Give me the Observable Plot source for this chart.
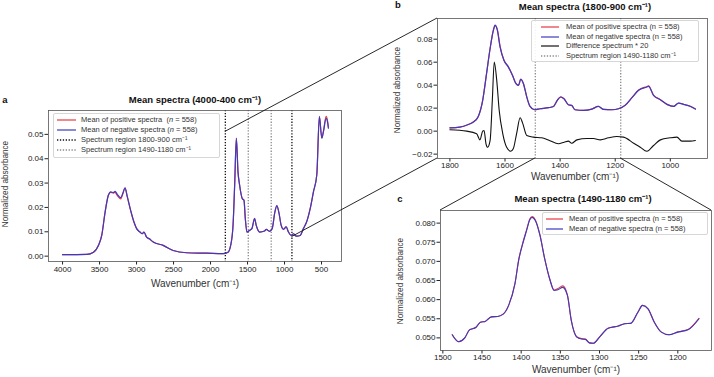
<!DOCTYPE html>
<html><head><meta charset="utf-8">
<script src="https://cdn.jsdelivr.net/npm/d3@7"></script>
<script src="https://cdn.jsdelivr.net/npm/@observablehq/plot@0.6"></script>
<style>
html,body{margin:0;padding:0;background:#fff;}
#root{position:relative;width:714px;height:377px;overflow:hidden;background:#fff;font-family:"Liberation Sans",Arial,sans-serif;color:#222;}
.abs{position:absolute;}
.t{position:absolute;white-space:nowrap;transform:translate(-50%,-50%);line-height:1;}
.ttl{font-weight:bold;font-size:9.5px;color:#111;}
.ax{font-size:10px;color:#333;}
.axy{font-size:9.5px;color:#333;transform:translate(-50%,-50%) rotate(-90deg) scale(0.86,1);}
.lg{position:absolute;border:1px solid #d6d6d6;border-radius:2px;background:rgba(255,255,255,0.9);box-sizing:border-box;}
.lg .row{position:absolute;white-space:nowrap;font-size:7.5px;color:#333;transform:translateY(-50%);line-height:1;}
.lg svg{position:absolute;}
</style></head><body><div id="root"></div>
<script>
// ---------- Panel a: 4000-400 cm-1 ----------
const wnA = [4000,3672,3582,3515,3470,3425,3380,3349,3313,3290,3259,3214,3187,3156,3124,3080,3035,2999,2954,2922,2900,2864,2828,2774,2640,2505,2325,2056,1831,1764,1728,1696,1674,1651,1629,1607,1571,1548,1530,1508,1472,1441,1405,1382,1337,1270,1247,1203,1167,1131,1104,1077,1045,1014,978,947,911,879,856,834,789,744,698,653,609,564,529,496,474,438,420,407];
const negA = [0.0006,0.0007,0.0016,0.0044,0.0085,0.0180,0.0250,0.0264,0.0261,0.0266,0.0253,0.0240,0.0257,0.0280,0.0243,0.0188,0.0140,0.0113,0.0099,0.0092,0.0099,0.0078,0.0071,0.0058,0.0044,0.0023,0.0014,0.0012,0.0010,0.0016,0.0044,0.0126,0.0291,0.0484,0.0346,0.0291,0.0236,0.0229,0.0154,0.0099,0.0106,0.0113,0.0154,0.0126,0.0099,0.0103,0.0110,0.0102,0.0113,0.0180,0.0206,0.0180,0.0126,0.0110,0.0120,0.0099,0.0085,0.0092,0.0085,0.0082,0.0085,0.0113,0.0143,0.0195,0.0264,0.0333,0.0573,0.0484,0.0511,0.0566,0.0552,0.0525];
const posA = [0.0006,0.0007,0.0016,0.0045,0.0087,0.0182,0.0252,0.0262,0.0259,0.0262,0.0248,0.0235,0.0254,0.0279,0.0242,0.0188,0.0140,0.0113,0.0099,0.0092,0.0099,0.0078,0.0071,0.0058,0.0044,0.0023,0.0014,0.0012,0.0010,0.0016,0.0044,0.0126,0.0292,0.0485,0.0348,0.0292,0.0237,0.0230,0.0154,0.0099,0.0106,0.0113,0.0155,0.0126,0.0099,0.0103,0.0110,0.0102,0.0113,0.0181,0.0208,0.0181,0.0126,0.0110,0.0120,0.0099,0.0085,0.0092,0.0085,0.0082,0.0085,0.0114,0.0144,0.0196,0.0265,0.0334,0.0574,0.0485,0.0513,0.0574,0.0558,0.0530];
const regionOuter = [1800, 900];
const regionInner = [1490, 1180];
const xTicksA = [4000,3500,3000,2500,2000,1500,1000,500];
const yTicksA = [0,0.01,0.02,0.03,0.04,0.05];
const xDomA = [4190, 230], yDomA = [-0.0022, 0.0598];

// ---------- Panel b: 1800-900 cm-1 ----------
const wnB = [1800,1764,1733,1715,1697,1681,1667,1655,1642,1636,1628,1618,1604,1588,1573,1560,1551,1543,1533,1521,1509,1493,1473,1442,1424,1410,1398,1386,1370,1358,1346,1315,1285,1261,1242,1212,1188,1164,1139,1115,1085,1079,1061,1036,1012,988,970,952,927,909];
const negB = [0.0029,0.0035,0.0058,0.0079,0.0128,0.0268,0.0500,0.0704,0.0879,0.0922,0.0879,0.0733,0.0617,0.0559,0.0486,0.0413,0.0399,0.0451,0.0413,0.0297,0.0215,0.0186,0.0195,0.0204,0.0215,0.0268,0.0297,0.0282,0.0230,0.0224,0.0186,0.0180,0.0192,0.0215,0.0189,0.0186,0.0195,0.0224,0.0291,0.0355,0.0384,0.0390,0.0311,0.0273,0.0233,0.0215,0.0244,0.0233,0.0215,0.0192];
const posB = [0.0029,0.0035,0.0058,0.0079,0.0128,0.0268,0.0500,0.0704,0.0881,0.0918,0.0888,0.0740,0.0619,0.0559,0.0486,0.0413,0.0399,0.0452,0.0413,0.0297,0.0215,0.0186,0.0195,0.0204,0.0215,0.0269,0.0299,0.0283,0.0230,0.0224,0.0186,0.0180,0.0192,0.0215,0.0189,0.0186,0.0195,0.0225,0.0293,0.0358,0.0389,0.0395,0.0314,0.0274,0.0233,0.0215,0.0245,0.0234,0.0216,0.0192];
const wnD = [1800,1739,1703,1691,1681,1676,1669,1663,1654,1646,1639,1630,1621,1608,1594,1579,1570,1558,1545,1536,1521,1497,1467,1439,1406,1385,1370,1358,1339,1303,1279,1254,1224,1194,1170,1133,1109,1085,1061,1036,1000,976,958,927,909];
const diffB = [0.0012,0.0000,-0.0023,-0.0076,0.0000,0.0006,-0.0110,-0.0140,-0.0081,0.0268,0.0602,0.0442,0.0180,-0.0023,-0.0140,-0.0175,-0.0154,-0.0023,0.0116,0.0070,-0.0038,-0.0052,-0.0058,-0.0081,-0.0110,-0.0096,-0.0087,-0.0105,-0.0076,-0.0064,-0.0064,-0.0076,-0.0058,-0.0047,-0.0052,-0.0105,-0.0140,-0.0175,-0.0125,-0.0076,-0.0058,-0.0052,-0.0087,-0.0087,-0.0081];
const xTicksB = [1800,1600,1400,1200,1000];
const yTicksB = [-0.02,0,0.02,0.04,0.06,0.08];
const xDomB = [1845, 865], yDomB = [-0.0238, 0.098];

// ---------- Panel c: 1490-1180 cm-1 ----------
const wnC = [1488,1480,1472,1466,1458,1452,1446,1438,1430,1423,1416,1408,1403,1398,1393,1389,1386,1382,1376,1370,1363,1358,1353,1347,1341,1336,1329,1323,1318,1313,1308,1300,1289,1276,1268,1260,1251,1245,1238,1230,1221,1211,1200,1187,1173];
const negC = [0.0508,0.0490,0.0500,0.0521,0.0527,0.0541,0.0543,0.0555,0.0556,0.0562,0.0585,0.0641,0.0705,0.0746,0.0781,0.0809,0.0815,0.0807,0.0768,0.0707,0.0650,0.0624,0.0626,0.0632,0.0611,0.0545,0.0502,0.0497,0.0496,0.0487,0.0486,0.0502,0.0525,0.0531,0.0537,0.0538,0.0567,0.0585,0.0576,0.0541,0.0515,0.0508,0.0515,0.0521,0.0550];
const posC = [0.0508,0.0490,0.0500,0.0521,0.0527,0.0541,0.0543,0.0555,0.0556,0.0562,0.0585,0.0641,0.0706,0.0748,0.0783,0.0811,0.0817,0.0809,0.0769,0.0707,0.0650,0.0625,0.0629,0.0636,0.0613,0.0546,0.0503,0.0498,0.0497,0.0487,0.0486,0.0502,0.0525,0.0531,0.0537,0.0538,0.0567,0.0585,0.0576,0.0541,0.0515,0.0508,0.0516,0.0522,0.0551];
const xTicksC = [1500,1450,1400,1350,1300,1250,1200];
const yTicksC = [0.050,0.055,0.060,0.065,0.070,0.075,0.080];
const xDomC = [1503, 1157], yDomC = [0.0467, 0.0833];

// ---------- styles ----------
const RED = "#e8383d", BLUE = "#3b3bc0", GREY = "#8a8a8a";
const spectrum = (wn, vals) => wn.map((w, i) => ({wn: w, v: vals[i]}));
const base = (w, h, m) => ({
  width: w, height: h, marginLeft: m[0], marginRight: m[1], marginTop: m[2], marginBottom: m[3],
  style: {fontFamily: '"Liberation Sans", Arial, sans-serif', fontSize: "8px", color: "#222", background: "transparent", overflow: "visible"}
});
const axes = (xt, yt, yfmt, xpad) => [
  Plot.axisX(xt, {tickSize: 3.5, tickPadding: xpad, tickFormat: d3.format("d"), label: null}),
  Plot.axisY(yt, {tickSize: 3.5, tickPadding: 1.5, tickFormat: d3.format(yfmt), label: null}),
  Plot.frame({stroke: "#555", strokeWidth: 0.8})
];
const lineOpts = (c, w) => ({x: "wn", y: "v", stroke: c, strokeWidth: w, curve: "monotone-x"});
const dots = "1.3,1.6";

const pa = Plot.plot({
  ...base(350, 210, [48, 9, 20, 39]),
  x: {domain: xDomA}, y: {domain: yDomA},
  marks: [
    Plot.ruleX(regionOuter, {stroke: "#111", strokeWidth: 1.3, strokeDasharray: dots}),
    Plot.ruleX(regionInner, {stroke: GREY, strokeWidth: 1.3, strokeDasharray: dots}),
    Plot.line(spectrum(wnA, posA), lineOpts(RED, 1.2)),
    Plot.line(spectrum(wnA, negA), lineOpts(BLUE, 1.2)),
    ...axes(xTicksA, yTicksA, ".2f", 1.5)
  ]
});
const pb = Plot.plot({
  ...base(334, 180, [57, 7, 18, 22]),
  x: {domain: xDomB}, y: {domain: yDomB},
  marks: [
    Plot.ruleX(regionInner, {stroke: GREY, strokeWidth: 1.3, strokeDasharray: dots}),
    Plot.line(spectrum(wnB, posB), lineOpts(RED, 1.2)),
    Plot.line(spectrum(wnB, negB), lineOpts(BLUE, 1.2)),
    Plot.line(spectrum(wnD, diffB), lineOpts("#111", 1.1)),
    ...axes(xTicksB, yTicksB, ".2f", 0)
  ]
});
const pc = Plot.plot({
  ...base(334, 187, [60, 3, 20, 27]),
  x: {domain: xDomC}, y: {domain: yDomC},
  marks: [
    Plot.line(spectrum(wnC, posC), lineOpts(RED, 1.1)),
    Plot.line(spectrum(wnC, negC), lineOpts(BLUE, 1.1)),
    ...axes(xTicksC, yTicksC, ".3f", 0.5)
  ]
});

const root = document.getElementById("root");
function place(el, x, y) {
  const d = document.createElement("div");
  d.className = "abs"; d.style.left = x + "px"; d.style.top = y + "px";
  d.appendChild(el); root.appendChild(d);
}
const OA = [0, 90], OB = [380, 0], OC = [380, 190];
place(pa, ...OA); place(pb, ...OB); place(pc, ...OC);

// ---------- zoom connector lines (from the scales) ----------
const ns = "http://www.w3.org/2000/svg";
const ov = document.createElementNS(ns, "svg");
ov.setAttribute("width", 714); ov.setAttribute("height", 377);
ov.style.cssText = "position:absolute;left:0;top:0;pointer-events:none;";
const pt = (plot, o, xv, yv) => [o[0] + plot.scale("x").apply(xv), o[1] + plot.scale("y").apply(yv)];
const links = [
  [pt(pa, OA, regionOuter[0], 0.051), pt(pb, OB, xDomB[0], yDomB[1])],
  [pt(pa, OA, regionOuter[1], 0.0078), pt(pb, OB, xDomB[0], yDomB[0])],
  [pt(pb, OB, regionInner[0], yDomB[0]), pt(pc, OC, xDomC[0], yDomC[1])],
  [pt(pb, OB, regionInner[1], yDomB[0]), pt(pc, OC, xDomC[1], yDomC[1])]
];
for (const [a, b] of links) {
  const l = document.createElementNS(ns, "line");
  l.setAttribute("x1", a[0]); l.setAttribute("y1", a[1]);
  l.setAttribute("x2", b[0]); l.setAttribute("y2", b[1]);
  l.setAttribute("stroke", "#111"); l.setAttribute("stroke-width", 0.9);
  ov.appendChild(l);
}
root.appendChild(ov);

// ---------- text ----------
function text(html, x, y, cls) {
  const d = document.createElement("div");
  d.className = "t " + (cls || ""); d.style.left = x + "px"; d.style.top = y + "px";
  d.innerHTML = html; root.appendChild(d);
}
text("Mean spectra (4000-400 cm⁻¹)", 195, 100, "ttl");
text("Mean spectra (1800-900 cm⁻¹)", 585, 7, "ttl");
text("Mean spectra (1490-1180 cm⁻¹)", 583, 199, "ttl");
text("a", 5, 100, "ttl");
text("b", 398, 5, "ttl");
text("c", 400, 199, "ttl");
text("Wavenumber (cm⁻¹)", 195, 284, "ax");
text("Wavenumber (cm⁻¹)", 575, 177, "ax");
text("Wavenumber (cm⁻¹)", 576, 370, "ax");
text("Normalized absorbance", 5, 184, "axy");
text("Normalized absorbance", 397, 90, "axy");
text("Normalized absorbance", 400, 281, "axy");

// ---------- legends ----------
function legend(x, y, w, h, items, swX, swLen, txX) {
  const box = document.createElement("div");
  box.className = "lg";
  Object.assign(box.style, {left: x + "px", top: y + "px", width: w + "px", height: h + "px"});
  for (const it of items) {
    const s = document.createElementNS(ns, "svg");
    s.setAttribute("width", swLen); s.setAttribute("height", 6);
    s.style.left = swX + "px"; s.style.top = (it.y - 3) + "px";
    const l = document.createElementNS(ns, "line");
    l.setAttribute("x1", 0); l.setAttribute("x2", swLen); l.setAttribute("y1", 3); l.setAttribute("y2", 3);
    l.setAttribute("stroke", it.color); l.setAttribute("stroke-width", it.dash ? 1.3 : 1.2);
    if (it.dash) l.setAttribute("stroke-dasharray", dots);
    s.appendChild(l); box.appendChild(s);
    const r = document.createElement("div");
    r.className = "row"; r.style.left = txX + "px"; r.style.top = it.y + "px";
    r.innerHTML = it.label; box.appendChild(r);
  }
  root.appendChild(box);
}
legend(53, 113, 167, 45, [
  {label: "Mean of positive spectra&nbsp;&nbsp;(<i>n</i> = 558)", color: RED, y: 6},
  {label: "Mean of negative spectra (<i>n</i> = 558)", color: BLUE, y: 16},
  {label: "Spectrum region 1800-900 cm⁻¹", color: "#111", dash: true, y: 26},
  {label: "Spectrum region 1490-1180 cm⁻¹", color: GREY, dash: true, y: 36}
], 3, 19, 27);
legend(531, 20, 168, 42, [
  {label: "Mean of positive spectra (n = 558)", color: RED, y: 6},
  {label: "Mean of negative spectra (n = 558)", color: BLUE, y: 15.5},
  {label: "Difference spectrum * 20", color: "#111", y: 25},
  {label: "Spectrum region 1490-1180 cm⁻¹", color: GREY, dash: true, y: 34.5}
], 9, 18, 34);
legend(542, 212, 166, 23, [
  {label: "Mean of positive spectra (n = 558)", color: RED, y: 6},
  {label: "Mean of negative spectra (n = 558)", color: BLUE, y: 16}
], 3, 17, 26);
</script></body></html>
